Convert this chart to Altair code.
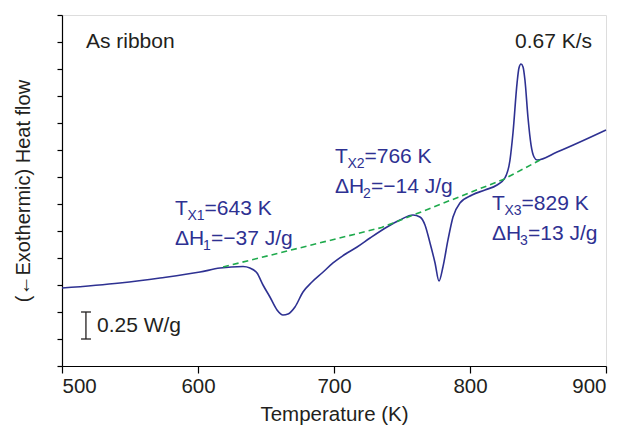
import altair as alt
import pandas as pd

# DSC trace (temperature in K, heat flow in W/g, arbitrary offset)
temperature = [500.0, 542.6, 572.1, 601.5, 616.2, 633.1, 638.2, 643.4, 647.8, 652.9,
               658.1, 662.5, 666.2, 671.3, 677.2, 683.8, 691.2, 699.3, 709.6, 717.0,
               726.5, 739.0, 748.5, 758.1, 763.2, 766.9, 770.6, 774.3, 777.2, 780.1,
               783.8, 787.5, 792.6, 801.5, 811.0, 819.9, 825.7, 829.4, 831.6, 834.6,
               836.0, 837.5, 839.0, 840.4, 842.6, 844.9, 847.1, 849.3, 864.0, 900.0]
heat_flow = [0.722, 0.769, 0.815, 0.870, 0.907, 0.921, 0.907, 0.861, 0.750, 0.639,
             0.519, 0.472, 0.481, 0.546, 0.685, 0.778, 0.861, 0.954, 1.046, 1.102,
             1.185, 1.287, 1.352, 1.398, 1.380, 1.306, 1.139, 0.954, 0.787, 0.917,
             1.167, 1.380, 1.509, 1.583, 1.630, 1.676, 1.741, 1.907, 2.157, 2.620,
             2.759, 2.796, 2.769, 2.648, 2.306, 2.046, 1.935, 1.907, 1.981, 2.185]

# Dashed baseline
base_temperature = [618.4, 735.0, 825.0, 851.5]
base_heat_flow = [0.917, 1.282, 1.730, 1.907]

# Scale bar (0.25 W/g)
bar_temperature = [517.6]
bar_low = [0.25]
bar_high = [0.50]
bar_cap_left = [514.0]
bar_cap_right = [521.3]

x_ticks = [500, 600, 700, 800, 900]
y_ticks = [0, 0.25, 0.5, 0.75, 1.0, 1.25, 1.5, 1.75, 2.0, 2.25, 2.5, 2.75, 3.0, 3.25]

NAVY = "#2e3192"
GREEN = "#1faa4d"
INK = "#231f20"
FONT = "Liberation Sans"
BIG = 21
SMALL = 14

x_scale = alt.Scale(domain=[500, 900], nice=False, zero=False)
y_scale = alt.Scale(domain=[0, 3.25], nice=False, zero=False)

curve_df = pd.DataFrame({"T": temperature, "H": heat_flow})
base_df = pd.DataFrame({"T": base_temperature, "H": base_heat_flow})

x_axis = alt.Axis(values=x_ticks, tickSize=7, labelFontSize=20.5, labelFont=FONT,
                  labelPadding=3, titleFontSize=20.5, titleFont=FONT, titleFontWeight="normal",
                  titlePadding=8, grid=False, domainColor="black", tickColor="black",
                  labelColor=INK, titleColor=INK, domainWidth=1.2, tickWidth=1.2)
y_axis = alt.Axis(values=y_ticks, labels=False, labelOverlap=False, tickCount=14, tickSize=5,
                  titleFontSize=20, titleFont=FONT,
                  titleFontWeight="normal", titlePadding=23, grid=False, domainColor="black",
                  tickColor="black", titleColor=INK, domainWidth=1.2, tickWidth=1.2)

curve = alt.Chart(curve_df).mark_line(color=NAVY, strokeWidth=1.6, interpolate="monotone").encode(
    x=alt.X("T:Q", scale=x_scale, axis=x_axis, title="Temperature (K)"),
    y=alt.Y("H:Q", scale=y_scale, axis=y_axis, title="(\u2190Exothermic) Heat flow"),
)

baseline = alt.Chart(base_df).mark_line(color=GREEN, strokeWidth=1.6, strokeDash=[6, 4]).encode(
    x=alt.X("T:Q", scale=x_scale), y=alt.Y("H:Q", scale=y_scale)
)

bar_df = pd.DataFrame({"T": bar_temperature, "lo": bar_low, "hi": bar_high,
                       "cl": bar_cap_left, "cr": bar_cap_right})
bar_v = alt.Chart(bar_df).mark_rule(color=INK, strokeWidth=1.3).encode(
    x=alt.X("T:Q", scale=x_scale), y=alt.Y("lo:Q", scale=y_scale), y2="hi:Q")
bar_c1 = alt.Chart(bar_df).mark_rule(color=INK, strokeWidth=1.3).encode(
    x=alt.X("cl:Q", scale=x_scale), x2="cr:Q", y=alt.Y("lo:Q", scale=y_scale))
bar_c2 = alt.Chart(bar_df).mark_rule(color=INK, strokeWidth=1.3).encode(
    x=alt.X("cl:Q", scale=x_scale), x2="cr:Q", y=alt.Y("hi:Q", scale=y_scale))

layers = [curve, baseline, bar_v, bar_c1, bar_c2]


def text_part(t, h, s, dx=0, dy=0, size=BIG, color=NAVY, align="left"):
    return alt.Chart(pd.DataFrame({"T": [t], "H": [h], "s": [s]})).mark_text(
        align=align, baseline="alphabetic", dx=dx, dy=dy, fontSize=size, font=FONT, color=color
    ).encode(x=alt.X("T:Q", scale=x_scale), y=alt.Y("H:Q", scale=y_scale), text="s:N")


# plain labels
plain_text = ["As ribbon", "0.67 K/s", "0.25 W/g"]
plain_T = [517.6, 861.4, 525.7]
plain_H = [2.944, 2.944, 0.315]
plain_align = ["left", "center", "left"]
for s, t, h, a in zip(plain_text, plain_T, plain_H, plain_align):
    layers.append(text_part(t, h, s, size=21, color=INK, align=a))

# crystallization annotations
tx_index = ["1", "2", "3"]
tx_value = ["=643 K", "=766 K", "=829 K"]
dh_value = ["=\u221237 J/g", "=\u221214 J/g", "=13 J/g"]
ann_T = [583.1, 700.7, 816.2]
tx_H = [1.398, 1.880, 1.444]
dh_H = [1.120, 1.602, 1.167]

for i in range(3):
    t = ann_T[i]
    layers.append(text_part(t, tx_H[i], "T"))
    layers.append(text_part(t, tx_H[i], "X" + tx_index[i], dx=12.5, dy=5, size=SMALL))
    layers.append(text_part(t, tx_H[i], tx_value[i], dx=29.5))
    layers.append(text_part(t, dh_H[i], "\u0394H"))
    layers.append(text_part(t, dh_H[i], tx_index[i], dx=28, dy=5, size=SMALL))
    layers.append(text_part(t, dh_H[i], dh_value[i], dx=36))

chart = alt.layer(*layers).properties(
    width=544, height=351,
    autosize=alt.AutoSizeParams(type="none"),
    padding={"left": 54, "top": 7, "right": 12, "bottom": 60},
).configure_view(stroke=None).configure(background="white")

chart.save("out.html", embed_options={"renderer": "svg", "actions": False})
